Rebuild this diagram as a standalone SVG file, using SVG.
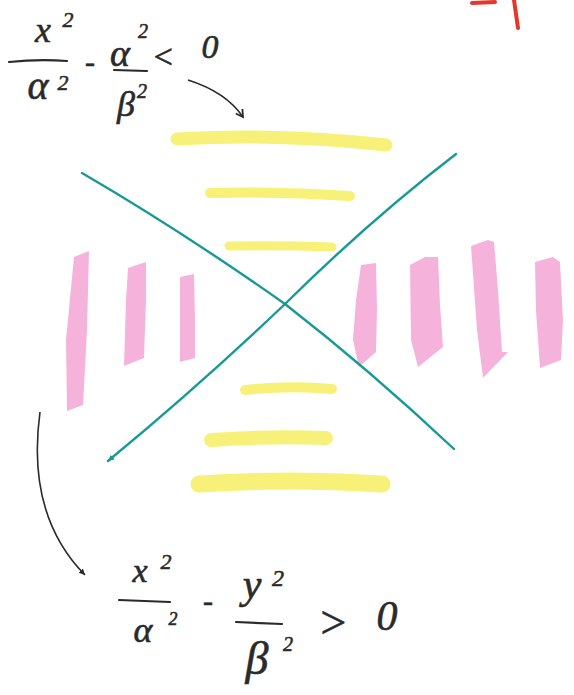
<svg xmlns="http://www.w3.org/2000/svg" width="574" height="695" viewBox="0 0 574 695">
<style>
.m{font-family:"Liberation Serif","DejaVu Serif",serif;font-style:italic;fill:#2a2a2a;stroke:#2a2a2a;stroke-width:0.6;text-anchor:middle}
.bar{stroke:#2a2a2a;stroke-width:2.2;fill:none;stroke-linecap:round}
.yl{stroke:#f6ef6a;fill:none;stroke-linecap:round;opacity:0.9}
.pk{fill:#f5b3dc}
.tl{stroke:#179a95;stroke-width:2.4;fill:none;stroke-linecap:round}
.ar{stroke:#2a2a2a;stroke-width:1.6;fill:none}
.rd{stroke:#e8352b;stroke-width:4;fill:none;stroke-linecap:round}
</style>
<defs>
<marker id="ah" markerWidth="10" markerHeight="10" refX="8" refY="5" orient="auto" markerUnits="userSpaceOnUse">
<path d="M1 1 L8 5 L1 9" fill="none" stroke="#2a2a2a" stroke-width="1.8"/>
</marker>
<marker id="ahs" markerWidth="8" markerHeight="8" refX="6" refY="4" orient="auto" markerUnits="userSpaceOnUse">
<path d="M0 1 L6 4 L0 7 Z" fill="#2a2a2a"/>
</marker>
<marker id="aht" markerWidth="8" markerHeight="8" refX="6" refY="4" orient="auto" markerUnits="userSpaceOnUse">
<path d="M0 1 L6 4 L0 7 Z" fill="#179a95"/>
</marker>
</defs>
<rect width="574" height="695" fill="#ffffff"/>

<g id="red-mark">
<path class="rd" d="M472 3 L495 2"/>
<path class="rd" d="M514 0 L518 28"/>
</g>

<g id="yellow-bands">
<path class="yl" stroke-width="13" d="M177 139 Q280 133 386 145"/>
<path class="yl" stroke-width="10" d="M210 193 Q280 191 350 196"/>
<path class="yl" stroke-width="9" d="M229 246 Q280 245 332 247"/>
<path class="yl" stroke-width="10" d="M245 390 Q290 385 332 389"/>
<path class="yl" stroke-width="14" d="M211 440 Q270 436 326 438"/>
<path class="yl" stroke-width="17" d="M199 484 Q290 478 382 484"/>
</g>

<g id="pink-bands">
<polygon class="pk" points="74,257 89,251 87,330 83,405 67,411 66,340"/>
<polygon class="pk" points="128,268 146,262 146,300 144,358 124,366 126,300"/>
<polygon class="pk" points="180,277 194,274 195,320 195,358 180,362 180,320"/>
<polygon class="pk" points="361,265 376,263 377,310 376,352 359,367 353,340 356,300"/>
<polygon class="pk" points="410,265 425,257 438,257 440,305 443,347 418,367 411,340"/>
<polygon class="pk" points="471,246 488,240 494,242 498,290 502,352 508,352 483,378 477,330"/>
<polygon class="pk" points="535,262 553,257 560,262 563,320 561,360 540,368 536,310"/>
</g>

<g id="asymptotes">
<path class="tl" d="M82 173 Q180 230 285 304 Q370 370 454 449"/>
<path class="tl" d="M456 154 Q370 220 285 304 Q200 385 108 461" marker-end="url(#aht)"/>
</g>

<g id="formula-top">
<text class="m" x="43" y="42" font-size="36">x</text>
<text class="m" x="68" y="27" font-size="22">2</text>
<path class="bar" d="M9 62 Q38 59 67 61"/>
<text class="m" x="38" y="99" font-size="40">α</text>
<text class="m" x="63" y="90" font-size="22">2</text>
<text class="m" x="90" y="72" font-size="30">-</text>
<text class="m" x="120" y="66" font-size="38">α</text>
<text class="m" x="143" y="38" font-size="20">2</text>
<path class="bar" d="M114 70 L147 71"/>
<text class="m" x="126" y="116" font-size="36">β</text>
<text class="m" x="142" y="98" font-size="20">2</text>
<text class="m" x="163" y="68" font-size="34">&lt;</text>
<text class="m" x="210" y="58" font-size="34">0</text>
</g>

<g id="formula-bottom">
<text class="m" x="140" y="582" font-size="34">x</text>
<text class="m" x="166" y="569" font-size="22">2</text>
<path class="bar" d="M119 600 Q145 601 170 602"/>
<text class="m" x="143" y="642" font-size="36">α</text>
<text class="m" x="173" y="625" font-size="18">2</text>
<text class="m" x="208" y="611" font-size="30">-</text>
<text class="m" x="252" y="598" font-size="42">y</text>
<text class="m" x="278" y="586" font-size="24">2</text>
<path class="bar" d="M236 622 L282 624"/>
<text class="m" x="257" y="674" font-size="46">β</text>
<text class="m" x="288" y="651" font-size="20">2</text>
<text class="m" x="333" y="638" font-size="46">&gt;</text>
<text class="m" x="387" y="630" font-size="42">0</text>
</g>

<g id="connectors">
<path class="ar" d="M188 80 Q226 92 243 117" marker-end="url(#ah)"/>
<path class="ar" d="M40 412 Q26 515 85 575" marker-end="url(#ahs)"/>
</g>
</svg>
